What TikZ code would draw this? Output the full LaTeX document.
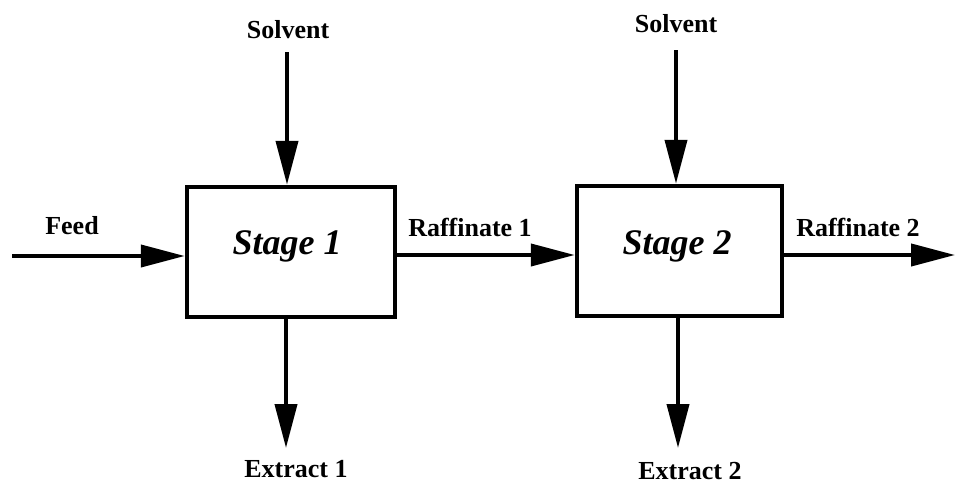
\documentclass[tikz,border=0pt]{standalone}
\usepackage{fontspec}
\setmainfont{Liberation Serif}
\usetikzlibrary{arrows.meta}
\begin{document}
\begin{tikzpicture}[x=1pt,y=-1pt,
  stagebox/.style={draw,line width=4.5pt,minimum width=208pt,minimum height=130pt,inner sep=0pt},
  stagetxt/.style={font=\fontsize{36}{40}\selectfont\bfseries\itshape},
  lbl/.style={font=\fontsize{26}{30}\selectfont\bfseries,inner sep=0pt},
  flow/.style={line width=4pt,-{Triangle[length=44pt,width=22pt]}}]
\useasboundingbox[fill=white] (0,0) rectangle (956,485);
\node[stagebox] (s1) at (291,252) {};
\node[stagebox,minimum width=205pt] (s2) at (679.5,251) {};
\node[stagetxt] (t1) at (287,246) {Stage 1};
\node[stagetxt] (t2) at (677,246) {Stage 2};
\node[lbl] (solv1) at (288,30) {Solvent};
\node[lbl] (solv2) at (676,24) {Solvent};
\node[lbl] (feed) at (72,226) {Feed};
\node[lbl] (raf1) at (470,227) {Raffinate 1};
\node[lbl] (raf2) at (858,227) {Raffinate 2};
\node[lbl] (ex1) at (296,469) {Extract 1};
\node[lbl] (ex2) at (690,471) {Extract 2};
\coordinate (fs) at (12,256);
\coordinate (sv1) at (287,52);
\coordinate (sv2) at (676,50);
\coordinate (r2e) at (955,255);
\coordinate (e1) at (286,448);
\coordinate (e2) at (678,448);
\draw[flow] (fs) -- (fs -| s1.west);
\draw[flow] (sv1) -- (sv1 |- s1.north);
\draw[flow] (sv2) -- (sv2 |- s2.north);
\draw[flow] (s1.east |- 0,255) -- (s2.west |- 0,255);
\draw[flow] (s2.east |- r2e) -- (r2e);
\draw[flow] (e1 |- s1.south) -- (e1);
\draw[flow] (e2 |- s2.south) -- (e2);
\end{tikzpicture}
\end{document}
